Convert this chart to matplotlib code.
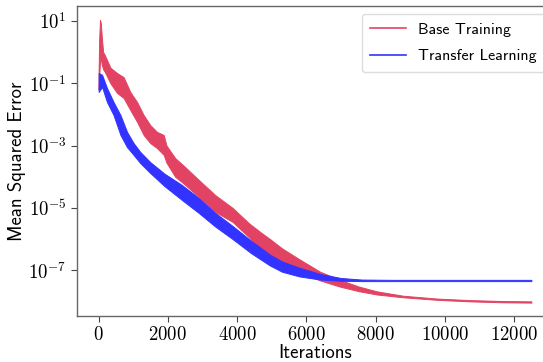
import numpy as np
import matplotlib
matplotlib.use("Agg")
import matplotlib.pyplot as plt
from matplotlib.lines import Line2D

# Training curves: upper / lower envelope of the MSE (log10) at sampled iterations
base_iters = [0, 15, 40, 60, 90, 130, 180, 340, 530, 720, 915, 1110, 1300, 1490,
              1685, 1880, 1960, 2210, 2500, 2890, 3370, 3870, 4350, 4700, 4950,
              5300, 5800, 6400, 6950, 7500, 8040, 8800, 9770, 10730, 11680, 12500]
base_hi_log10 = [-0.6, 0.4, 1.03, 0.95, 0.5, 0.0, -0.1, -0.5, -0.67, -0.8, -1.28,
                 -1.6, -2.02, -2.34, -2.56, -2.66, -3.0, -3.4, -3.69, -4.1, -4.59,
                 -5.0, -5.5, -5.8, -6.0, -6.3, -6.65, -7.05, -7.3, -7.52, -7.68,
                 -7.82, -7.91, -7.96, -7.99, -8.0]
base_lo_log10 = [-1.2, -0.8, -0.3, -0.2, -0.4, -0.55, -0.64, -1.0, -1.31, -1.47,
                 -1.86, -2.24, -2.66, -2.92, -3.08, -3.3, -3.55, -4.0, -4.26, -4.65,
                 -5.13, -5.45, -5.95, -6.4, -6.55, -6.78, -7.05, -7.33, -7.52,
                 -7.67, -7.78, -7.87, -7.95, -8.0, -8.03, -8.04]

transfer_iters = [0, 100, 240, 430, 630, 820, 1010, 1200, 1490, 1900, 2400, 2890,
                  3370, 3870, 4400, 4950, 5300, 5800, 6400, 7000, 7600, 8500,
                  10000, 12500]
transfer_hi_log10 = [-0.67, -0.73, -1.15, -1.6, -2.02, -2.56, -2.92, -3.2, -3.53,
                     -3.9, -4.26, -4.68, -5.16, -5.58, -6.05, -6.5, -6.72, -6.92,
                     -7.12, -7.25, -7.3, -7.31, -7.31, -7.31]
transfer_lo_log10 = [-1.28, -1.12, -1.6, -2.02, -2.66, -3.05, -3.3, -3.56, -3.88,
                     -4.3, -4.74, -5.16, -5.6, -6.0, -6.45, -6.85, -7.05, -7.2,
                     -7.3, -7.34, -7.35, -7.35, -7.35, -7.35]

series_labels = ["Base Training", "Transfer Learning"]
x_ticks = [0, 2000, 4000, 6000, 8000, 10000, 12000]
y_tick_exponents = [1, -1, -3, -5, -7]

plt.rcParams["mathtext.fontset"] = "cm"
plt.rcParams["font.family"] = ["cmss10", "DejaVu Sans"]

red = "#E34363"
blue = "#3333FF"

fig = plt.figure(figsize=(5.43, 3.62), dpi=100)
ax = fig.add_axes([77 / 543, 46 / 362, 476 / 543, 310 / 362])

for iters, hi, lo, col in [
    (base_iters, base_hi_log10, base_lo_log10, red),
    (transfer_iters, transfer_hi_log10, transfer_lo_log10, blue),
]:
    ax.fill_between(np.asarray(iters), np.power(10.0, lo), np.power(10.0, hi),
                    facecolor=col, edgecolor=col, linewidth=0.7)

ax.set_yscale("log")
ax.set_xlim(-625, 13125)
ax.set_ylim(10 ** -8.47, 10 ** 1.48)
ax.set_xticks(x_ticks)
ax.set_xticklabels([f"${v}$" for v in x_ticks])
ax.set_yticks([10.0 ** e for e in y_tick_exponents])
ax.set_yticklabels([f"$10^{{{e}}}$" for e in y_tick_exponents])
ax.yaxis.set_minor_locator(matplotlib.ticker.NullLocator())
ax.tick_params(labelsize=13.5, colors="#444444", length=4, width=0.8)
ax.tick_params(labelcolor="black")
for s in ax.spines.values():
    s.set_color("#666666")
    s.set_linewidth(1.0)

ax.set_xlabel("Iterations", fontsize=13.5, labelpad=0)
ax.set_ylabel("Mean Squared Error", fontsize=13.5, labelpad=2)

handles = [Line2D([], [], color=red, lw=1.2), Line2D([], [], color=blue, lw=1.2)]
ax.legend(handles, series_labels, loc="upper right", fontsize=11.5,
          handlelength=2.2, handletextpad=0.75, borderpad=0.55, labelspacing=0.75,
          framealpha=1.0, edgecolor="#dddddd", fancybox=True)

fig.savefig("out.png", dpi=100)
